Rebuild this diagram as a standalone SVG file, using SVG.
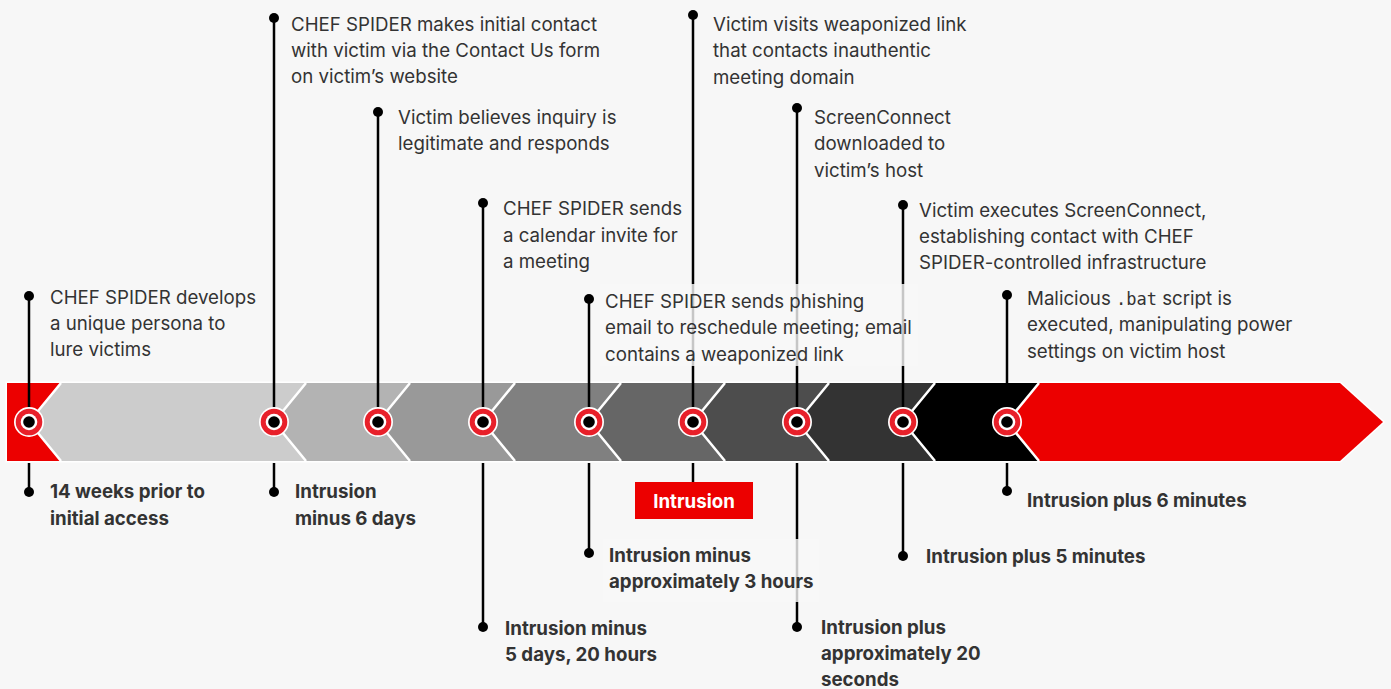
<svg xmlns="http://www.w3.org/2000/svg" width="1391" height="689" viewBox="0 0 1391 689">
<style>
.t{font-family:Inter,"Noto Sans","Liberation Sans",sans-serif;font-size:18.7px;fill:#333333}
.b{font-weight:700}
.mono{font-family:"DejaVu Sans Mono","Liberation Mono",monospace;font-size:17px}
.ln{stroke:#000;stroke-width:2.5;fill:none}
.bg{fill:#f7f7f7;opacity:0.8}
.dot{fill:#000}
.chev{fill:none;stroke:#fff;stroke-width:2.5;stroke-linejoin:miter}
</style>
<defs>
<g id="mk">
<circle r="15" fill="#fff"/>
<circle r="13.3" fill="#e8202a"/>
<circle r="8.3" fill="#fff"/>
<circle r="5.8" fill="#000"/>
</g>
</defs>
<rect width="1391" height="689" fill="#f7f7f7"/>
<g id="band">
<polygon points="7,383 1340,383 1383,422 1340,461 7,461" fill="#fff" stroke="#fff" stroke-width="3"/>
<polygon points="7,383 61,383 29,422 61,461 7,461" fill="#ec0000"/>
<polygon points="61,383 306,383 274,422 306,461 61,461 29,422" fill="#cccccc"/>
<polygon points="306,383 410,383 378,422 410,461 306,461 274,422" fill="#b3b3b3"/>
<polygon points="410,383 515,383 483,422 515,461 410,461 378,422" fill="#999999"/>
<polygon points="515,383 621,383 589,422 621,461 515,461 483,422" fill="#808080"/>
<polygon points="621,383 725,383 693,422 725,461 621,461 589,422" fill="#666666"/>
<polygon points="725,383 829,383 797,422 829,461 725,461 693,422" fill="#4d4d4d"/>
<polygon points="829,383 935,383 903,422 935,461 829,461 797,422" fill="#333333"/>
<polygon points="935,383 1039,383 1007,422 1039,461 935,461 903,422" fill="#000000"/>
<polygon points="1039,383 1340,383 1383,422 1340,461 1039,461 1007,422" fill="#ec0000"/>
<polyline class="chev" points="61,383 29,422 61,461"/>
<polyline class="chev" points="306,383 274,422 306,461"/>
<polyline class="chev" points="410,383 378,422 410,461"/>
<polyline class="chev" points="515,383 483,422 515,461"/>
<polyline class="chev" points="621,383 589,422 621,461"/>
<polyline class="chev" points="725,383 693,422 725,461"/>
<polyline class="chev" points="829,383 797,422 829,461"/>
<polyline class="chev" points="935,383 903,422 935,461"/>
<polyline class="chev" points="1039,383 1007,422 1039,461"/>
</g>
<g id="connectors">
<line class="ln" x1="29" y1="296" x2="29" y2="422"/>
<line class="ln" x1="29" y1="463" x2="29" y2="492"/>
<line class="ln" x1="274" y1="18" x2="274" y2="422"/>
<line class="ln" x1="274" y1="463" x2="274" y2="492"/>
<line class="ln" x1="378" y1="112" x2="378" y2="422"/>
<line class="ln" x1="483" y1="203" x2="483" y2="422"/>
<line class="ln" x1="483" y1="463" x2="483" y2="627"/>
<line class="ln" x1="589" y1="299" x2="589" y2="422"/>
<line class="ln" x1="589" y1="463" x2="589" y2="553"/>
<line class="ln" x1="693" y1="15" x2="693" y2="422"/>
<line class="ln" x1="693" y1="463" x2="693" y2="483"/>
<line class="ln" x1="797" y1="108" x2="797" y2="422"/>
<line class="ln" x1="797" y1="463" x2="797" y2="627"/>
<line class="ln" x1="903" y1="205" x2="903" y2="422"/>
<line class="ln" x1="903" y1="463" x2="903" y2="556"/>
<line class="ln" x1="1007" y1="295" x2="1007" y2="422"/>
<line class="ln" x1="1007" y1="463" x2="1007" y2="491"/>
</g>
<g id="m1">
<use href="#mk" x="29" y="422"/>
<circle class="dot" cx="29" cy="296" r="5"/>
<text class="t" x="50" y="303.5">CHEF SPIDER develops<tspan x="50" dy="26">a unique persona to</tspan><tspan x="50" dy="26">lure victims</tspan></text>
<circle class="dot" cx="29" cy="492" r="5"/>
<text class="t b" x="50" y="498">14 weeks prior to<tspan x="50" dy="26.5">initial access</tspan></text>
</g>
<g id="m2">
<use href="#mk" x="274" y="422"/>
<circle class="dot" cx="274" cy="18" r="5"/>
<text class="t" x="291" y="30.5">CHEF SPIDER makes initial contact<tspan x="291" dy="26.3">with victim via the Contact Us form</tspan><tspan x="291" dy="26.3">on victim’s website</tspan></text>
<circle class="dot" cx="274" cy="492" r="5"/>
<text class="t b" x="295" y="498">Intrusion<tspan x="295" dy="26.5">minus 6 days</tspan></text>
</g>
<g id="m3">
<use href="#mk" x="378" y="422"/>
<circle class="dot" cx="378" cy="112" r="5"/>
<text class="t" x="398" y="124">Victim believes inquiry is<tspan x="398" dy="26">legitimate and responds</tspan></text>
</g>
<g id="m4">
<use href="#mk" x="483" y="422"/>
<circle class="dot" cx="483" cy="203" r="5"/>
<text class="t" x="503" y="215">CHEF SPIDER sends<tspan x="503" dy="26.5">a calendar invite for</tspan><tspan x="503" dy="26.5">a meeting</tspan></text>
<circle class="dot" cx="483" cy="627" r="5"/>
<text class="t b" x="505" y="634.5">Intrusion minus<tspan x="505" dy="26.5">5 days, 20 hours</tspan></text>
</g>
<g id="m5">
<use href="#mk" x="589" y="422"/>
<circle class="dot" cx="589" cy="299" r="5"/>
<rect class="bg" x="600" y="284" width="318" height="82"/>
<text class="t" x="605" y="308">CHEF SPIDER sends phishing<tspan x="605" dy="26.3">email to reschedule meeting; email</tspan><tspan x="605" dy="26.3">contains a weaponized link</tspan></text>
<circle class="dot" cx="589" cy="553" r="5"/>
<rect class="bg" x="603" y="539" width="216" height="63"/>
<text class="t b" x="609" y="561.5">Intrusion minus<tspan x="609" dy="26.5">approximately 3 hours</tspan></text>
</g>
<g id="m6">
<use href="#mk" x="693" y="422"/>
<circle class="dot" cx="693" cy="15" r="5"/>
<text class="t" x="713" y="31">Victim visits weaponized link<tspan x="713" dy="26.3">that contacts inauthentic</tspan><tspan x="713" dy="26.3">meeting domain</tspan></text>
<rect x="635" y="482" width="118" height="37" fill="#ec0000"/>
<text class="t b" x="694" y="507.5" text-anchor="middle" style="fill:#fff">Intrusion</text>
</g>
<g id="m7">
<use href="#mk" x="797" y="422"/>
<circle class="dot" cx="797" cy="108" r="5"/>
<text class="t" x="814" y="124">ScreenConnect<tspan x="814" dy="26.3">downloaded to</tspan><tspan x="814" dy="26.3">victim’s host</tspan></text>
<circle class="dot" cx="797" cy="627" r="5"/>
<text class="t b" x="821" y="634">Intrusion plus<tspan x="821" dy="26">approximately 20</tspan><tspan x="821" dy="26">seconds</tspan></text>
</g>
<g id="m8">
<use href="#mk" x="903" y="422"/>
<circle class="dot" cx="903" cy="205" r="5"/>
<text class="t" x="919" y="216.5">Victim executes ScreenConnect,<tspan x="919" dy="26.3">establishing contact with CHEF</tspan><tspan x="919" dy="26.3">SPIDER-controlled infrastructure</tspan></text>
<circle class="dot" cx="903" cy="556" r="5"/>
<text class="t b" x="926" y="562.5">Intrusion plus 5 minutes</text>
</g>
<g id="m9">
<use href="#mk" x="1007" y="422"/>
<circle class="dot" cx="1007" cy="295" r="5"/>
<text class="t" x="1027" y="305">Malicious <tspan class="mono">.bat</tspan> script is<tspan x="1027" dy="26.3">executed, manipulating power</tspan><tspan x="1027" dy="26.3">settings on victim host</tspan></text>
<circle class="dot" cx="1007" cy="491" r="5"/>
<text class="t b" x="1027" y="506.5">Intrusion plus 6 minutes</text>
</g>
</svg>
